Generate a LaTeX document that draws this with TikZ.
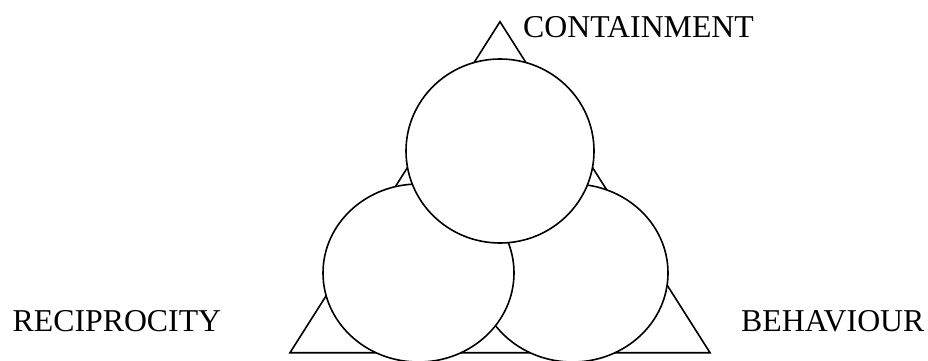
\documentclass[tikz,border=0pt]{standalone}
\usepackage{fontspec}
\setmainfont{Liberation Serif}
\begin{document}
\begin{tikzpicture}[x=1pt,y=-1pt,
  outline/.style={draw=black,line width=1.6pt,line join=miter},
  disc/.style={outline,fill=white},
  lbl/.style={inner sep=0pt,anchor=base west,font=\fontsize{31.8}{38}\selectfont}]
\useasboundingbox (0,0) rectangle (928,360);
\clip (0,0) rectangle (928,360);
\coordinate (apex) at (500,21.7);
\coordinate (bl) at (290,352.7);
\coordinate (br) at (710,352.7);
\coordinate (ctop) at (500,151);
\coordinate (cleft) at (418.5,273);
\coordinate (cright) at (572.5,273);
\draw[outline] (apex) -- (bl) -- (br) -- cycle;
\draw[disc] (cright) ellipse [x radius=95.5, y radius=89];
\draw[disc] (cleft) ellipse [x radius=95.5, y radius=89];
\draw[disc] (ctop) ellipse [x radius=94, y radius=92];
\node[lbl] (contain) at (523,37.7) {CONTAINMENT};
\node[lbl] (recip) at (12.5,331.7) {RECIPROCITY};
\node[lbl] (behav) at (741,331.7) {BEHAVIOUR};
\end{tikzpicture}
\end{document}
